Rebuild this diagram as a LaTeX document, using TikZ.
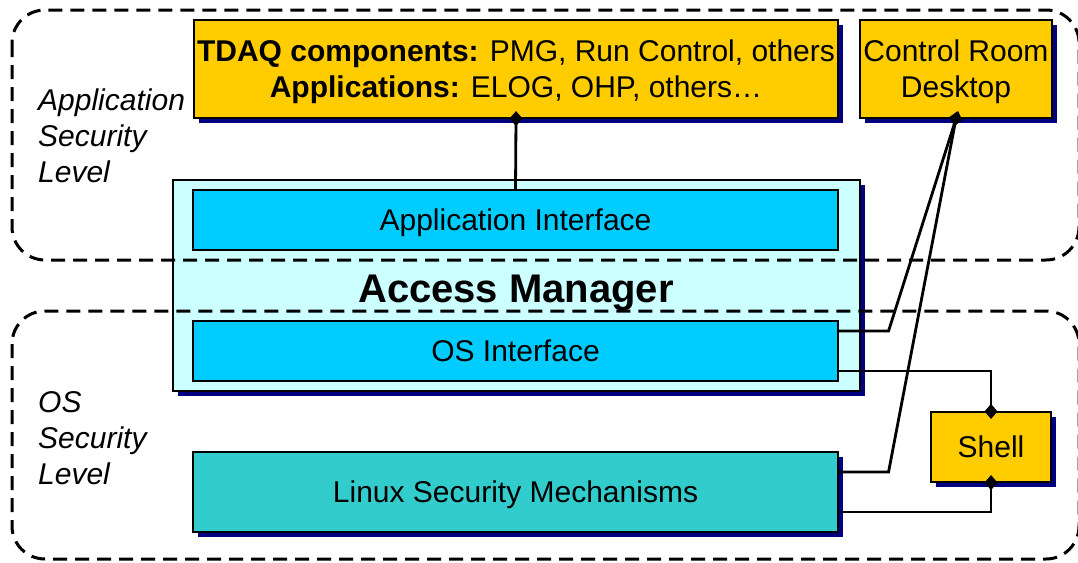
\documentclass[tikz,border=0pt]{standalone}
\usepackage{fontspec}
\setmainfont{Liberation Sans}
\usetikzlibrary{shadows,arrows.meta,calc}

\definecolor{gold}{HTML}{FFCC00}
\definecolor{paleaqua}{HTML}{CCFFFF}
\definecolor{brightcyan}{HTML}{00CCFF}
\definecolor{tealbox}{HTML}{33CCCC}
\definecolor{navyshade}{HTML}{000080}

\tikzset{
  shade box/.style={drop shadow={shadow xshift=5pt, shadow yshift=-5pt,
      fill=navyshade, opacity=1}},
  box/.style={draw=black, line width=1.1pt, inner sep=0pt, align=center,
      font=\fontsize{30}{36}\selectfont, text height=27.2pt, text depth=6.4pt},
  twolines/.style={text height=63.2pt, text depth=6.4pt},
  goldbox/.style={box, fill=gold, shade box},
  ifacebox/.style={box, fill=brightcyan},
  levelzone/.style={draw=black, line width=3pt, dash pattern=on 14pt off 8pt,
      rounded corners=33pt},
  levellabel/.style={font=\fontsize{30}{36}\selectfont\itshape, align=left,
      inner sep=0pt, anchor=base west},
  conn/.style={line width=2.8pt, line join=miter},
  diamondend/.style={conn, -{Diamond[length=15pt,width=13pt]}, shorten >=-7.5pt},
}

\begin{document}
\begin{tikzpicture}[x=1pt, y=-1pt]
\useasboundingbox (0,0) rectangle (1078,562);

% top layer: applications and desktop
\node[goldbox, twolines, minimum width=644pt, minimum height=98pt] (tdaq) at (516,69)
  {\textbf{TDAQ components:} PMG, Run Control, others\\
   \textbf{Applications:} ELOG, OHP, others…};
\node[goldbox, twolines, minimum width=192pt, minimum height=98pt] (crd) at (956,69)
  {Control Room\\Desktop};

% access manager with its two interfaces
\node[box, fill=paleaqua, line width=1.8pt, shade box,
      minimum width=687pt, minimum height=211pt] (am) at (516.5,285.5) {};
\node[font=\fontsize{40}{44}\selectfont\bfseries, anchor=base, inner sep=0pt]
  (amtitle) at (516,302) {Access Manager};
\node[ifacebox, minimum width=645pt, minimum height=60pt] (appif) at (515.5,220)
  {Application Interface};
\node[ifacebox, minimum width=645pt, minimum height=60pt] (osif) at (515.5,351)
  {OS Interface};

% operating system layer
\node[box, fill=tealbox, shade box, minimum width=645pt, minimum height=80pt]
  (lsm) at (515.5,492) {Linux Security Mechanisms};
\node[goldbox, minimum width=120pt, minimum height=70pt] (shell) at (991,447)
  {Shell};

% security level zones
\draw[levelzone] (12,10) rectangle (1079,260);
\draw[levelzone] (12,311) rectangle (1079,559);
\node[levellabel] (applevel) at (38,182) {Application\\Security\\Level};
\node[levellabel] (oslevel) at (38,484) {OS\\Security\\Level};

% connectors
\draw[diamondend] (appif.north) -- (tdaq.south);
\draw[diamondend] ($(osif.east)+(0,-20)$) -- ++(50,0) -- (crd.south);
\draw[diamondend] ($(lsm.east)+(0,-20)$) -- ++(50,0) -- (crd.south);
\draw[diamondend] ($(osif.east)+(0,20)$) -| (shell.north);
\draw[diamondend] ($(lsm.east)+(0,20)$) -| (shell.south);
\end{tikzpicture}
\end{document}
